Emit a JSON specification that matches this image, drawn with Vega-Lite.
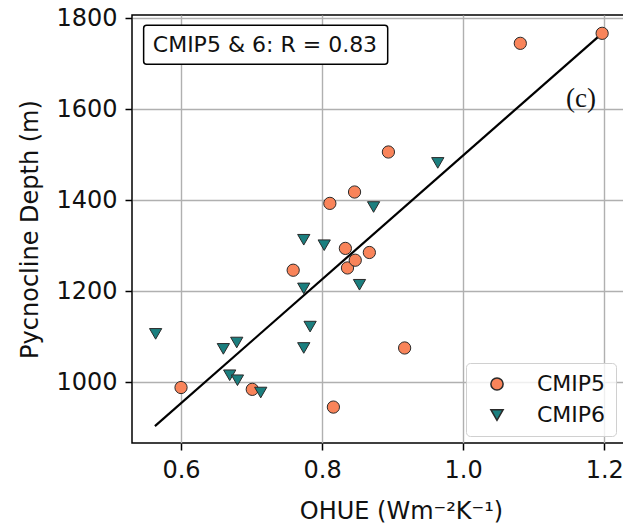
{
  "$schema": "https://vega.github.io/schema/vega-lite/v6.json",
  "width": 492,
  "height": 428,
  "autosize": "none",
  "padding": {"left": 132, "top": 15, "right": 0, "bottom": 82},
  "background": "white",
  "config": {
    "font": "DejaVu Sans",
    "view": {"stroke": "black", "strokeWidth": 1.5},
    "axis": {
      "labelFont": "DejaVu Sans",
      "titleFont": "DejaVu Sans",
      "labelFontSize": 24,
      "titleFontSize": 24,
      "labelColor": "#111",
      "titleColor": "#111",
      "titleFontWeight": "normal",
      "domain": false,
      "tickColor": "black",
      "tickWidth": 1.5,
      "tickSize": 7,
      "gridColor": "#b0b0b0",
      "gridWidth": 1.4,
      "labelPadding": 8
    }
  },
  "datasets": {
    "points": [
      {"model": "CMIP5", "ohue": 0.600, "depth": 988},
      {"model": "CMIP5", "ohue": 0.701, "depth": 984},
      {"model": "CMIP5", "ohue": 0.759, "depth": 1246},
      {"model": "CMIP5", "ohue": 0.811, "depth": 1393},
      {"model": "CMIP5", "ohue": 0.816, "depth": 945},
      {"model": "CMIP5", "ohue": 0.833, "depth": 1294},
      {"model": "CMIP5", "ohue": 0.836, "depth": 1251},
      {"model": "CMIP5", "ohue": 0.847, "depth": 1268},
      {"model": "CMIP5", "ohue": 0.846, "depth": 1418},
      {"model": "CMIP5", "ohue": 0.867, "depth": 1285},
      {"model": "CMIP5", "ohue": 0.894, "depth": 1506},
      {"model": "CMIP5", "ohue": 0.917, "depth": 1075},
      {"model": "CMIP5", "ohue": 1.081, "depth": 1745},
      {"model": "CMIP5", "ohue": 1.197, "depth": 1767},
      {"model": "CMIP6", "ohue": 0.564, "depth": 1106},
      {"model": "CMIP6", "ohue": 0.660, "depth": 1073},
      {"model": "CMIP6", "ohue": 0.669, "depth": 1015},
      {"model": "CMIP6", "ohue": 0.679, "depth": 1087},
      {"model": "CMIP6", "ohue": 0.680, "depth": 1004},
      {"model": "CMIP6", "ohue": 0.713, "depth": 977},
      {"model": "CMIP6", "ohue": 0.774, "depth": 1313},
      {"model": "CMIP6", "ohue": 0.774, "depth": 1206},
      {"model": "CMIP6", "ohue": 0.774, "depth": 1075},
      {"model": "CMIP6", "ohue": 0.783, "depth": 1122},
      {"model": "CMIP6", "ohue": 0.803, "depth": 1301},
      {"model": "CMIP6", "ohue": 0.853, "depth": 1214},
      {"model": "CMIP6", "ohue": 0.873, "depth": 1385},
      {"model": "CMIP6", "ohue": 0.964, "depth": 1482}
    ],
    "fit": [
      {"ohue": 0.563, "depth": 903},
      {"ohue": 1.197, "depth": 1767}
    ],
    "box": [
      {"label": "CMIP5 & 6: R = 0.83"}
    ],
    "panel": [
      {"label": "(c)"}
    ]
  },
  "layer": [
    {
      "data": {"name": "fit"},
      "mark": {"type": "line", "color": "black", "strokeWidth": 2.2},
      "encoding": {
        "x": {
          "field": "ohue",
          "type": "quantitative",
          "scale": {"domain": [0.5305, 1.228], "nice": false, "zero": false},
          "axis": {
            "values": [0.6, 0.8, 1.0, 1.2],
            "format": ".1f",
            "title": "OHUE (Wm⁻²K⁻¹)",
            "titleX": 269,
            "titleY": 75,
            "titleAlign": "center",
            "titleBaseline": "alphabetic"
          }
        },
        "y": {
          "field": "depth",
          "type": "quantitative",
          "scale": {"domain": [866, 1807.3], "nice": false, "zero": false},
          "axis": {
            "values": [1000, 1200, 1400, 1600, 1800],
            "format": "d",
            "title": "Pycnocline Depth (m)",
            "titleX": -102,
            "titleY": 214,
            "titleAngle": -90,
            "titleAlign": "center",
            "titleBaseline": "middle"
          }
        }
      }
    },
    {
      "data": {"name": "points"},
      "mark": {"type": "point", "filled": true, "stroke": "#2a2a2a", "strokeWidth": 1, "size": 150, "opacity": 1},
      "encoding": {
        "x": {"field": "ohue", "type": "quantitative"},
        "y": {"field": "depth", "type": "quantitative"},
        "color": {
          "field": "model",
          "type": "nominal",
          "scale": {"domain": ["CMIP5", "CMIP6"], "range": ["#f9845a", "#1b7f7f"]},
          "legend": {
            "title": null,
            "orient": "none",
            "legendX": 334,
            "legendY": 348,
            "labelFont": "DejaVu Sans",
            "labelFontSize": 22,
            "labelColor": "#111",
            "symbolSize": 150,
            "symbolOpacity": 1,
            "padding": 10,
            "symbolOffset": 10,
            "labelOffset": 29,
            "rowPadding": 9,
            "strokeColor": "#d0d0d0",
            "fillColor": "rgba(255,255,255,0.8)",
            "cornerRadius": 4,
            "encode": {"symbols": {"update": {"stroke": {"value": "#2a2a2a"}, "strokeWidth": {"value": 1}}}}
          }
        },
        "shape": {
          "field": "model",
          "type": "nominal",
          "scale": {"domain": ["CMIP5", "CMIP6"], "range": ["circle", "triangle-down"]},
          "legend": {
            "title": null,
            "orient": "none",
            "legendX": 334,
            "legendY": 348,
            "labelFont": "DejaVu Sans",
            "labelFontSize": 22,
            "labelColor": "#111",
            "symbolSize": 150,
            "symbolOpacity": 1,
            "padding": 10,
            "symbolOffset": 10,
            "labelOffset": 29,
            "rowPadding": 9,
            "strokeColor": "#d0d0d0",
            "fillColor": "rgba(255,255,255,0.8)",
            "cornerRadius": 4,
            "encode": {"symbols": {"update": {"stroke": {"value": "#2a2a2a"}, "strokeWidth": {"value": 1}}}}
          }
        }
      }
    },
    {
      "data": {"name": "box"},
      "mark": {"type": "rect", "fill": "white", "stroke": "black", "strokeWidth": 1.5, "cornerRadius": 3},
      "encoding": {
        "x": {"datum": 0.547, "type": "quantitative"},
        "x2": {"datum": 0.893},
        "y": {"datum": 1785, "type": "quantitative"},
        "y2": {"datum": 1699}
      }
    },
    {
      "data": {"name": "box"},
      "mark": {"type": "text", "font": "DejaVu Sans", "fontSize": 22, "align": "center", "baseline": "middle", "color": "#111"},
      "encoding": {
        "x": {"datum": 0.719, "type": "quantitative"},
        "y": {"datum": 1742, "type": "quantitative"},
        "text": {"field": "label"}
      }
    },
    {
      "data": {"name": "panel"},
      "mark": {"type": "text", "font": "Liberation Serif", "fontSize": 27, "align": "center", "baseline": "middle", "color": "#111"},
      "encoding": {
        "x": {"datum": 1.167, "type": "quantitative"},
        "y": {"datum": 1622, "type": "quantitative"},
        "text": {"field": "label"}
      }
    }
  ]
}
